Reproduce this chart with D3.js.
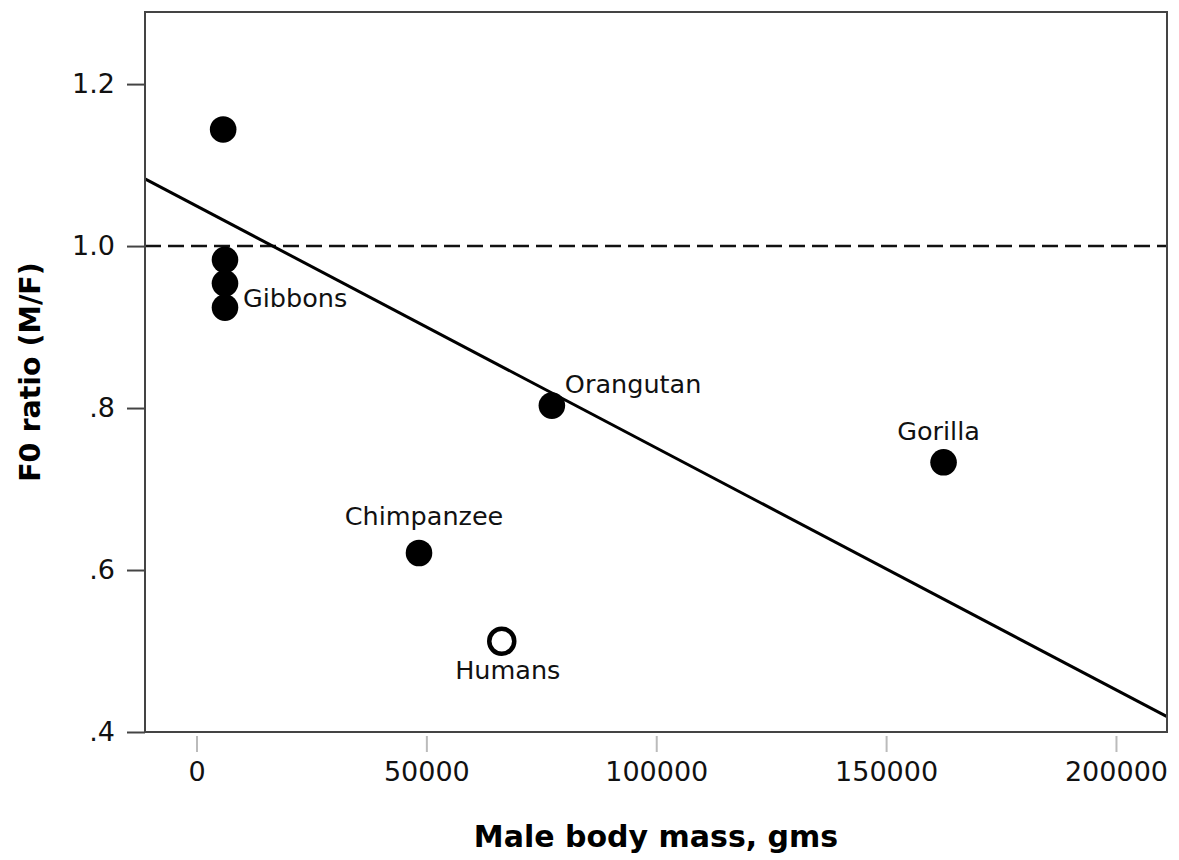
<!DOCTYPE html>
<html>
<head>
<meta charset="utf-8">
<script src="https://cdn.jsdelivr.net/npm/d3@7"></script>
<style>
  html, body { margin: 0; padding: 0; background: #fff; }
  svg { display: block; font-family: "DejaVu Sans", sans-serif; }
</style>
</head>
<body>
<svg id="chart" width="1179" height="860"></svg>
<script>
// species points (male body mass in g, F0 ratio M/F)
const species = ['', '', '', 'Gibbons', 'Orangutan', 'Chimpanzee', 'Humans', 'Gorilla'];
const mass = [5800, 6200, 6200, 6200, 77300, 48400, 66400, 162500];
const f0ratio = [1.144, 0.983, 0.954, 0.924, 0.803, 0.621, 0.512, 0.733];
const openPoint = [false, false, false, false, false, false, true, false];

const xTicks = [0, 50000, 100000, 150000, 200000];
const yTicks = [0.4, 0.6, 0.8, 1.0, 1.2];
const yTickLabels = ['.4', '.6', '.8', '1.0', '1.2'];

// fitted line (intercept, slope) and reference ratio
const fitIntercept = 1.0495;
const fitSlope = -2.987e-6;
const refRatio = 1.0;

const width = 1179, height = 860;
const margin = { top: 12, right: 12, bottom: 128, left: 145 };

const svg = d3.select('#chart');

const x = d3.scaleLinear()
  .domain([-11200, 211100])
  .range([margin.left, width - margin.right]);
const y = d3.scaleLinear()
  .domain([0.4, 1.289])
  .range([height - margin.bottom, margin.top]);

const x0 = x.domain()[0], x1 = x.domain()[1];

// reference line at 1.0
svg.append('line')
  .attr('x1', x(x0)).attr('x2', x(x1))
  .attr('y1', y(refRatio)).attr('y2', y(refRatio))
  .attr('stroke', '#111')
  .attr('stroke-width', 2.5)
  .attr('stroke-dasharray', '16,7');

// regression line
svg.append('line')
  .attr('x1', x(x0)).attr('x2', x(x1))
  .attr('y1', y(fitIntercept + fitSlope * x0))
  .attr('y2', y(fitIntercept + fitSlope * x1))
  .attr('stroke', '#000')
  .attr('stroke-width', 3);

// frame
svg.append('rect')
  .attr('x', margin.left).attr('y', margin.top)
  .attr('width', width - margin.left - margin.right)
  .attr('height', height - margin.top - margin.bottom)
  .attr('fill', 'none')
  .attr('stroke', '#444')
  .attr('stroke-width', 2);

// y axis
const yAxis = svg.append('g')
  .attr('transform', `translate(${margin.left},0)`)
  .call(d3.axisLeft(y).tickValues(yTicks).tickSize(18).tickPadding(12)
    .tickFormat((d, i) => yTickLabels[i]));
yAxis.select('.domain').remove();
yAxis.selectAll('line').attr('stroke', '#444').attr('stroke-width', 2);
yAxis.selectAll('text').attr('font-size', 27).attr('fill', '#111')
  .attr('font-family', '"DejaVu Sans", sans-serif');

// x axis
const xAxis = svg.append('g')
  .attr('transform', `translate(0,${height - margin.bottom})`)
  .call(d3.axisBottom(x).tickValues(xTicks).tickSize(20).tickPadding(10)
    .tickFormat(d3.format('d')));
xAxis.select('.domain').remove();
xAxis.selectAll('line').attr('stroke', '#bbb').attr('stroke-width', 2).attr('y1', 4);
xAxis.selectAll('text').attr('font-size', 27).attr('fill', '#111')
  .attr('font-family', '"DejaVu Sans", sans-serif');

// points
const pts = mass.map((m, i) => ({ m, r: f0ratio[i], open: openPoint[i], name: species[i] }));
svg.append('g')
  .selectAll('circle')
  .data(pts)
  .enter()
  .append('circle')
  .attr('cx', d => x(d.m))
  .attr('cy', d => y(d.r))
  .attr('r', d => d.open ? 12.5 : 13.3)
  .attr('fill', d => d.open ? '#fff' : '#000')
  .attr('stroke', '#000')
  .attr('stroke-width', d => d.open ? 4.5 : 0);

// point labels
const labelOffset = {
  'Gibbons': { dx: 18, dy: -1, anchor: 'start' },
  'Orangutan': { dx: 13, dy: -13, anchor: 'start' },
  'Chimpanzee': { dx: 5, dy: -28, anchor: 'middle' },
  'Humans': { dx: 6, dy: 38, anchor: 'middle' },
  'Gorilla': { dx: -5, dy: -22, anchor: 'middle' }
};
svg.append('g')
  .selectAll('text')
  .data(pts.filter(d => d.name))
  .enter()
  .append('text')
  .attr('x', d => x(d.m) + labelOffset[d.name].dx)
  .attr('y', d => y(d.r) + labelOffset[d.name].dy)
  .attr('text-anchor', d => labelOffset[d.name].anchor)
  .attr('font-size', 25.5)
  .attr('fill', '#111')
  .text(d => d.name);

// axis titles
svg.append('text')
  .attr('x', (margin.left + width - margin.right) / 2)
  .attr('y', 847)
  .attr('text-anchor', 'middle')
  .attr('font-size', 30)
  .attr('font-weight', 'bold')
  .text('Male body mass, gms');

svg.append('text')
  .attr('transform', 'translate(40,372) rotate(-90)')
  .attr('text-anchor', 'middle')
  .attr('font-size', 28.5)
  .attr('font-weight', 'bold')
  .text('F0 ratio (M/F)');
</script>
</body>
</html>
